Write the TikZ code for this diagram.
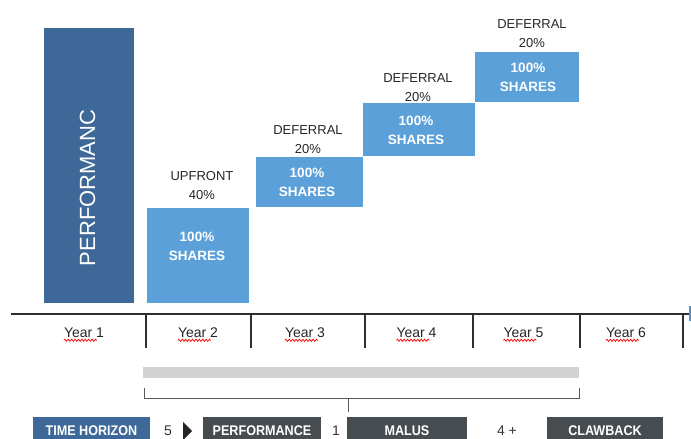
\documentclass[tikz,border=0pt]{standalone}
\usepackage{fontspec}
\setmainfont{Liberation Sans}
\newfontfamily\condfont[FakeStretch=0.9]{Liberation Sans}
\usetikzlibrary{decorations.pathmorphing}
\definecolor{perfblue}{HTML}{3E6897}
\definecolor{shareblue}{HTML}{5BA0D9}
\definecolor{boxgrey}{HTML}{474C51}
\definecolor{bargrey}{HTML}{D3D3D3}
\definecolor{axisgrey}{HTML}{2E2E2E}
\tikzset{
sharebox/.style={fill=shareblue, draw=none, inner sep=0pt},
sharetext/.style={text=white, font=\bfseries\fontsize{13.5}{19}\selectfont, align=center, inner sep=0pt},
steplabel/.style={text=black!85, font=\fontsize{13}{19}\selectfont, align=center, inner sep=0pt},
yearlabel/.style={text=black!85, font=\fontsize{14}{16}\selectfont, inner sep=0pt},
squiggle/.style={red, line width=0.7pt, decorate, decoration={snake, amplitude=1.1pt, segment length=3.4pt}},
legendbox/.style={fill=#1, text=white, font=\condfont\bfseries\fontsize{14}{15}\selectfont, inner sep=0pt, minimum height=22pt, text height=15.7pt, text depth=0pt},
legendnum/.style={text=black!80, font=\fontsize{14}{16}\selectfont, inner sep=0pt},
}
\begin{document}
\begin{tikzpicture}[x=1pt,y=1pt]
\useasboundingbox (0,0) rectangle (691,439);

% performance bar
\node[fill=perfblue, inner sep=0pt, minimum width=90pt, minimum height=275pt] (perfbar) at (89,439-165.5) {};
\node[rotate=90, text=white, font=\fontsize{22}{24}\selectfont, inner sep=0pt] (perftext) at (87.5,439-188) {PERFORMANC};

% share boxes
\node[sharebox, minimum width=102pt, minimum height=95pt] (box1) at (198,439-255.5) {};
\node[sharebox, minimum width=107pt, minimum height=50pt] (box2) at (309.5,439-182) {};
\node[sharebox, minimum width=112pt, minimum height=53pt] (box3) at (419,439-129.5) {};
\node[sharebox, minimum width=104pt, minimum height=50pt] (box4) at (527,439-77) {};

\node[sharetext] (shares1) at (197,439-246.5) {100\%\\SHARES};
\node[sharetext] (shares2) at (307,439-182) {100\%\\SHARES};
\node[sharetext] (shares3) at (416,439-130) {100\%\\SHARES};
\node[sharetext] (shares4) at (528,439-77.5) {100\%\\SHARES};

\node[steplabel] (upfront) at (202,439-186) {UPFRONT\\40\%};
\node[steplabel] (defer2) at (308,439-139.5) {DEFERRAL\\20\%};
\node[steplabel] (defer3) at (418,439-87.5) {DEFERRAL\\20\%};
\node[steplabel] (defer4) at (532,439-33.5) {DEFERRAL\\20\%};

% time axis
\draw[axisgrey, line width=2pt] (11,439-314) -- (691,439-314);
\foreach \x in {146,251,365,473,580,683}
\draw[axisgrey, line width=1.5pt] (\x,439-314) -- (\x,439-348.5);
\fill[shareblue!75!perfblue] (689,439-321) rectangle (691,439-306);

\foreach \i/\x in {1/84,2/198,3/305,4/416.5,5/523.5,6/626}
{
\node[yearlabel] (year\i) at (\x,439-333) {Year \i};
\draw[squiggle] (year\i.base west) ++(0,-2.5) -- ++(33,0);
}

% vesting bar and bracket
\fill[bargrey] (143,439-367) rectangle (579,439-378);
\draw[black!65, line width=1pt] (144,439-388) -- (144,439-399) -- (579,439-399) -- (579,439-388);
\draw[black!65, line width=1pt] (348,439-399) -- (348,439-412);

% legend
\node[legendbox=perfblue, minimum width=117pt] (horizon) at (91.5,439-428) {TIME HORIZON};
\node[legendnum] (five) at (168,439-431) {5};
\fill[black!85] (183,439-422) -- (183,439-440) -- (192,439-431) -- cycle;
\node[legendbox=boxgrey, minimum width=118pt] (perf) at (262,439-428) {PERFORMANCE};
\node[legendnum] (one) at (336,439-431) {1};
\node[legendbox=boxgrey, minimum width=120pt] (malus) at (407,439-428) {MALUS};
\node[legendnum] (four) at (507,439-431) {4 +};
\node[legendbox=boxgrey, minimum width=116pt] (clawback) at (605,439-428) {CLAWBACK};
\end{tikzpicture}
\end{document}
